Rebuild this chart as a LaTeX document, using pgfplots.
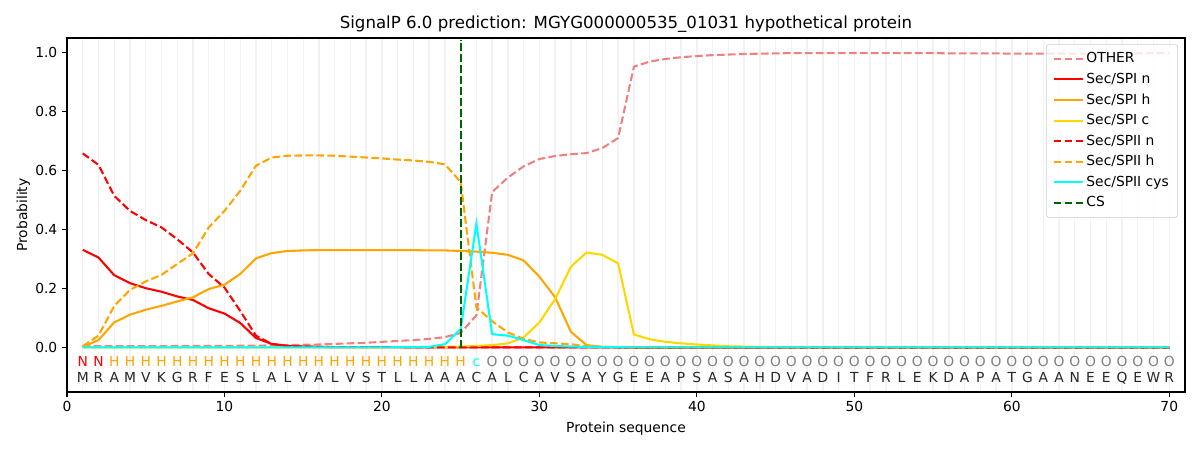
\documentclass[border=0pt]{standalone}
\usepackage{fontspec}
\setmainfont{DejaVu Sans}
\usepackage{pgfplots}
\pgfplotsset{compat=1.18}
\usepackage{pgfplotstable}

\definecolor{lightcoral}{HTML}{F08080}
\definecolor{mplorange}{HTML}{FFA500}
\definecolor{mplgold}{HTML}{FFD700}
\definecolor{mplcyan}{HTML}{00FFFF}
\definecolor{mplgreen}{HTML}{006400}
\definecolor{mplred}{HTML}{FF0000}
\definecolor{mplgray}{HTML}{808080}

\pgfplotstableread{
x other spin spih spic spiin spiih cys
1 0.005 0.332 0.003 0.001 0.659 0.005 0.001
2 0.005 0.306 0.026 0.001 0.620 0.041 0.001
3 0.005 0.246 0.086 0.001 0.515 0.142 0.001
4 0.005 0.219 0.112 0.001 0.464 0.196 0.001
5 0.005 0.202 0.129 0.001 0.433 0.225 0.001
6 0.005 0.190 0.142 0.001 0.408 0.247 0.001
7 0.006 0.174 0.157 0.001 0.368 0.284 0.001
8 0.006 0.162 0.171 0.001 0.323 0.320 0.001
9 0.006 0.134 0.199 0.001 0.250 0.408 0.001
10 0.006 0.116 0.214 0.001 0.204 0.464 0.001
11 0.007 0.084 0.250 0.001 0.125 0.532 0.001
12 0.007 0.033 0.303 0.001 0.041 0.617 0.001
13 0.008 0.013 0.321 0.001 0.013 0.645 0.001
14 0.009 0.006 0.328 0.001 0.006 0.651 0.001
15 0.010 0.004 0.330 0.001 0.004 0.652 0.001
16 0.011 0.003 0.331 0.001 0.003 0.652 0.001
17 0.013 0.002 0.331 0.001 0.002 0.651 0.001
18 0.015 0.002 0.331 0.001 0.002 0.648 0.001
19 0.017 0.002 0.331 0.001 0.002 0.645 0.001
20 0.020 0.002 0.331 0.001 0.002 0.642 0.001
21 0.023 0.002 0.331 0.001 0.002 0.638 0.002
22 0.026 0.001 0.331 0.002 0.001 0.635 0.002
23 0.030 0.001 0.330 0.002 0.001 0.630 0.003
24 0.036 0.001 0.330 0.003 0.001 0.622 0.012
25 0.050 0.001 0.328 0.004 0.001 0.562 0.063
26 0.110 0.001 0.326 0.006 0.001 0.137 0.421
27 0.528 0.001 0.322 0.009 0.001 0.090 0.046
28 0.577 0.001 0.315 0.015 0.001 0.052 0.041
29 0.615 0.001 0.296 0.035 0.001 0.030 0.026
30 0.640 0.001 0.241 0.086 0.001 0.018 0.009
31 0.650 0.001 0.171 0.165 0.001 0.015 0.006
32 0.656 0.001 0.054 0.275 0.001 0.012 0.004
33 0.660 0.001 0.009 0.323 0.001 0.005 0.003
34 0.677 0.001 0.003 0.315 0.001 0.003 0.002
35 0.711 0.001 0.002 0.286 0.001 0.002 0.002
36 0.953 0.000 0.001 0.045 0.000 0.001 0.001
37 0.970 0.000 0.001 0.029 0.000 0.001 0.001
38 0.979 0.000 0.001 0.020 0.000 0.001 0.001
39 0.985 0.000 0.001 0.015 0.000 0.001 0.001
40 0.989 0.000 0.001 0.011 0.000 0.001 0.001
41 0.992 0.000 0.001 0.008 0.000 0.001 0.001
42 0.994 0.000 0.001 0.005 0.000 0.001 0.001
43 0.996 0.000 0.001 0.004 0.000 0.001 0.001
44 0.997 0.000 0.001 0.003 0.000 0.001 0.001
45 0.998 0.000 0.001 0.002 0.000 0.001 0.001
46 0.999 0.000 0.001 0.001 0.000 0.001 0.001
47 0.999 0.000 0.001 0.001 0.000 0.001 0.001
48 0.999 0.000 0.001 0.001 0.000 0.001 0.001
49 0.999 0.000 0.001 0.001 0.000 0.001 0.001
50 0.999 0.000 0.001 0.001 0.000 0.001 0.001
51 0.999 0.000 0.001 0.001 0.000 0.001 0.001
52 0.999 0.000 0.001 0.001 0.000 0.001 0.001
53 0.999 0.000 0.001 0.001 0.000 0.001 0.001
54 0.999 0.000 0.001 0.001 0.000 0.001 0.001
55 0.999 0.000 0.001 0.001 0.000 0.001 0.001
56 0.998 0.000 0.001 0.001 0.000 0.001 0.001
57 0.998 0.000 0.001 0.001 0.000 0.001 0.001
58 0.998 0.000 0.001 0.001 0.000 0.001 0.001
59 0.998 0.000 0.001 0.001 0.000 0.001 0.001
60 0.997 0.000 0.001 0.001 0.000 0.001 0.001
61 0.997 0.000 0.001 0.001 0.000 0.001 0.001
62 0.997 0.000 0.001 0.001 0.000 0.001 0.001
63 0.997 0.000 0.001 0.001 0.000 0.001 0.001
64 0.997 0.000 0.001 0.001 0.000 0.001 0.001
65 0.997 0.000 0.001 0.001 0.000 0.001 0.001
66 0.998 0.000 0.001 0.001 0.000 0.001 0.001
67 0.998 0.000 0.001 0.001 0.000 0.001 0.001
68 0.998 0.000 0.001 0.001 0.000 0.001 0.001
69 0.999 0.000 0.001 0.001 0.000 0.001 0.001
70 0.999 0.000 0.001 0.001 0.000 0.001 0.001
}\probtab

\pgfplotstableread{
x s
1 M
2 R
3 A
4 M
5 V
6 K
7 G
8 R
9 F
10 E
11 S
12 L
13 A
14 L
15 V
16 A
17 L
18 V
19 S
20 T
21 L
22 L
23 A
24 A
25 A
26 C
27 A
28 L
29 C
30 A
31 V
32 S
33 A
34 Y
35 G
36 E
37 E
38 A
39 P
40 S
41 A
42 S
43 A
44 H
45 D
46 V
47 A
48 D
49 I
50 T
51 F
52 R
53 L
54 E
55 K
56 D
57 A
58 P
59 A
60 T
61 G
62 A
63 A
64 N
65 E
66 E
67 Q
68 E
69 W
70 R
}\seqtab

\pgfplotstableread{
x s
1 N
2 N
}\ntab

\pgfplotstableread{
x s
3 H
4 H
5 H
6 H
7 H
8 H
9 H
10 H
11 H
12 H
13 H
14 H
15 H
16 H
17 H
18 H
19 H
20 H
21 H
22 H
23 H
24 H
25 H
}\htab

\pgfplotstableread{
x s
26 c
}\ctab

\pgfplotstableread{
x s
27 O
28 O
29 O
30 O
31 O
32 O
33 O
34 O
35 O
36 O
37 O
38 O
39 O
40 O
41 O
42 O
43 O
44 O
45 O
46 O
47 O
48 O
49 O
50 O
51 O
52 O
53 O
54 O
55 O
56 O
57 O
58 O
59 O
60 O
61 O
62 O
63 O
64 O
65 O
66 O
67 O
68 O
69 O
70 O
}\otab

\tikzset{mpldash/.style={dash pattern=on 5.55pt off 2.4pt}}

\begin{document}
\begin{tikzpicture}
\useasboundingbox (0,0) rectangle (867.24pt,325.22pt);
\begin{axis}[
  at={(48.42pt,41.92pt)}, anchor=south west,
  scale only axis, width=808pt, height=255.8pt,
  xmin=0, xmax=71, ymin=-0.15, ymax=1.05,
  xtick={0,10,...,70},
  ytick={0,0.2,...,1.0},
  minor xtick={1,...,70},
  xminorgrids=true,
  minor grid style={black!5, line width=1pt},
  minor tick length=0pt,
  major tick length=3.5pt,
  tick align=outside,
  xtick pos=lower, ytick pos=left,
  tick style={black, line width=0.8pt},
  axis line style={line width=0.8pt},
  yticklabel style={/pgf/number format/fixed, /pgf/number format/fixed zerofill, /pgf/number format/precision=1},
  /pgf/number format/assume math mode=true,
  ticklabel style={font=\fontsize{10}{12}\selectfont},
  title={SignalP 6.0 prediction: MGYG000000535\_01031 hypothetical protein},
  title style={font=\fontsize{12}{14}\selectfont, yshift=-5.5pt},
  xlabel={Protein sequence},
  ylabel={Probability},
  ylabel shift=-3pt,
  label style={font=\fontsize{10}{12}\selectfont},
  legend style={at={(0.9937,0.983)}, anchor=north east, draw=black!20, fill=white, fill opacity=0.8, text opacity=1, rounded corners=2pt, font=\fontsize{10}{12}\selectfont, row sep=1.9pt, inner xsep=4.5pt, inner ysep=4pt},
  legend cell align=left,
  legend image code/.code={\draw[#1] (0pt,0pt) -- (21pt,0pt);},
  every axis plot/.append style={line width=1.5pt},
  clip=false,
]
\addplot[lightcoral, mpldash] table[x=x, y=other] {\probtab};
\addlegendentry{OTHER}
\addplot[mplred] table[x=x, y=spin] {\probtab};
\addlegendentry{Sec/SPI n}
\addplot[mplorange] table[x=x, y=spih] {\probtab};
\addlegendentry{Sec/SPI h}
\addplot[mplgold] table[x=x, y=spic] {\probtab};
\addlegendentry{Sec/SPI c}
\addplot[mplred, mpldash] table[x=x, y=spiin] {\probtab};
\addlegendentry{Sec/SPII n}
\addplot[mplorange, mpldash] table[x=x, y=spiih] {\probtab};
\addlegendentry{Sec/SPII h}
\addplot[mplcyan] table[x=x, y=cys] {\probtab};
\addlegendentry{Sec/SPII cys}
\addplot[mplgreen, mpldash] coordinates {(25,0) (25,1.045)};
\addlegendentry{CS}

\addplot[forget plot, draw=none, mark=none, nodes near coords, point meta=explicit symbolic,
  nodes near coords style={anchor=base, text=black!85, font=\fontsize{10}{12}\selectfont, inner sep=0pt}]
  table[x=x, y expr=-0.117, meta=s] {\seqtab};
\addplot[forget plot, draw=none, mark=none, nodes near coords, point meta=explicit symbolic,
  nodes near coords style={anchor=base, text=mplred, font=\fontsize{10}{12}\selectfont, inner sep=0pt}]
  table[x=x, y expr=-0.064, meta=s] {\ntab};
\addplot[forget plot, draw=none, mark=none, nodes near coords, point meta=explicit symbolic,
  nodes near coords style={anchor=base, text=mplorange, font=\fontsize{10}{12}\selectfont, inner sep=0pt}]
  table[x=x, y expr=-0.064, meta=s] {\htab};
\addplot[forget plot, draw=none, mark=none, nodes near coords, point meta=explicit symbolic,
  nodes near coords style={anchor=base, text=mplcyan, font=\fontsize{10}{12}\selectfont, inner sep=0pt}]
  table[x=x, y expr=-0.064, meta=s] {\ctab};
\addplot[forget plot, draw=none, mark=none, nodes near coords, point meta=explicit symbolic,
  nodes near coords style={anchor=base, text=mplgray, font=\fontsize{10}{12}\selectfont, inner sep=0pt}]
  table[x=x, y expr=-0.064, meta=s] {\otab};
\end{axis}
\end{tikzpicture}
\end{document}
